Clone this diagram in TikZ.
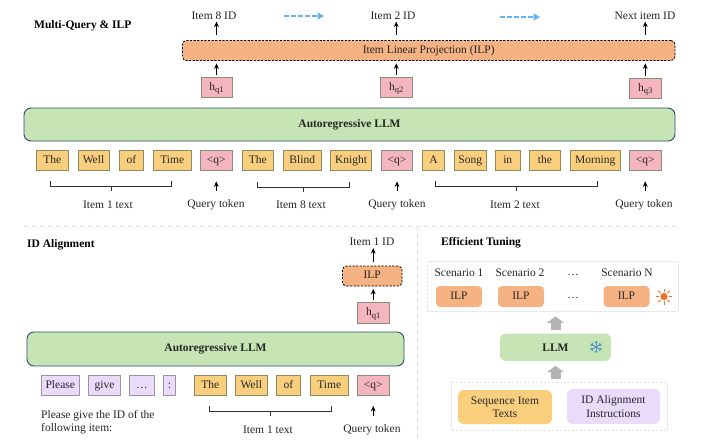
\documentclass[tikz,border=0pt]{standalone}
\usepackage{fontspec}
\setmainfont{Liberation Serif}
\usetikzlibrary{arrows.meta}
\definecolor{tokfill}{HTML}{F9CF7E}
\definecolor{tokline}{HTML}{8C8A5E}
\definecolor{pinkfill}{HTML}{F4B5C0}
\definecolor{pinkline}{HTML}{8C8F78}
\definecolor{purpfill}{HTML}{EADBFB}
\definecolor{purpline}{HTML}{9A93A8}
\definecolor{llmfill}{HTML}{C6E4B4}
\definecolor{llmline}{HTML}{2F4A75}
\definecolor{ilpfill}{HTML}{F5B282}
\definecolor{flowblue}{HTML}{62B2EE}
\definecolor{divline}{HTML}{E2E2E2}
\definecolor{blockgray}{HTML}{B4B4B4}
\definecolor{sunor}{HTML}{F0702A}
\tikzset{
  x=1pt,y=-1pt,
  every node/.style={font=\fontsize{11.5}{13.5}\selectfont,inner sep=0pt,text=black!85},
  boxbase/.style={rectangle,align=center,text height=8pt,text depth=2.5pt},
  tok/.style={boxbase,draw=tokline,fill=tokfill,line width=.8pt},
  qtok/.style={boxbase,draw=pinkline,fill=pinkfill,line width=.8pt},
  ptok/.style={boxbase,draw=purpline,fill=purpfill,line width=.8pt},
  llmbar/.style={boxbase,draw=llmline,fill=llmfill,line width=.9pt,rounded corners=7pt,font=\fontsize{11.5}{13.5}\selectfont\bfseries},
  ilpdash/.style={boxbase,draw=black,fill=ilpfill,line width=.8pt,dash pattern=on 2.2pt off 1.4pt,rounded corners=4pt},
  ilpsoft/.style={boxbase,fill=ilpfill,rounded corners=4pt},
  softbox/.style={rectangle,align=center,rounded corners=6pt},
  heading/.style={anchor=west,font=\fontsize{11.5}{13.5}\selectfont\bfseries,text=black},
  upar/.style={-{Stealth[length=5.5pt,width=4.8pt]},line width=.9pt,black,shorten >=2.5pt,shorten <=2.5pt},
  outar/.style={upar,shorten <=5.5pt,shorten >=1.5pt},
  qar/.style={upar,shorten <=9pt,shorten >=10.5pt},
  flowar/.style={-{Triangle[length=6.5pt,width=7pt]},line width=1.3pt,flowblue,dash pattern=on 4.5pt off 2.5pt},
  blockar/.style={-{Triangle[length=6.5pt,width=17pt]},line width=10pt,blockgray,shorten <=3pt,shorten >=4.5pt},
  divider/.style={divline,line width=.9pt,dash pattern=on 5pt off 3pt},
  groupbox/.style={rectangle,draw=divline,line width=.8pt,dash pattern=on 2.5pt off 1.5pt},
  bracket/.style={line width=1pt,black!80},
}
\newcommand{\bx}[7]{\node[#1,minimum width={(#4-#3)*1pt},minimum height={(#6-#5)*1pt}] (#2) at ({(#3+#4)/2},{(#5+#6)/2}) {#7};}
\newcommand{\hq}[1]{h\raisebox{-2.5pt}{\fontsize{8.5}{9}\selectfont q#1}}
\newcommand{\brk}[5]{%
  \coordinate (#1a) at (#2,#4); \coordinate (#1b) at (#3,#4);
  \coordinate (#1c) at (#5,{#4+5}); \coordinate (#1d) at (#5,{#4+10});
  \draw[bracket] (#1a) -- (#1a |- #1c) -- (#1b |- #1c) -- (#1b);
  \draw[bracket] (#1c) -- (#1d);}
\begin{document}
\begin{tikzpicture}
\useasboundingbox (0,0) rectangle (726,440);
\fill[white] (0,0) rectangle (726,440);
% ---------- Multi-Query & ILP
\node[heading] (t1) at (34,26) {Multi-Query \& ILP};
\node (id8) at (214,16) {Item 8 ID};
\node (id2) at (393,16) {Item 2 ID};
\node (idn) at (645,16) {Next item ID};
\bx{ilpdash}{ilp}{182.5}{675}{40.5}{60.5}{Item Linear Projection (ILP)}
\bx{qtok}{h1}{201}{232}{77.5}{97.5}{\hq{1}}
\bx{qtok}{h2}{380.5}{412}{77.5}{97.5}{\hq{2}}
\bx{qtok}{h3}{629.5}{661}{78.5}{98.5}{\hq{3}}
\bx{llmbar}{llm}{24}{675}{108}{141}{Autoregressive LLM}
\bx{tok}{a1}{36.5}{68}{150.5}{170.5}{The}
\bx{tok}{a2}{78}{109}{150.5}{170.5}{Well}
\bx{tok}{a3}{119.5}{143.5}{150.5}{170.5}{of}
\bx{tok}{a4}{153.5}{191}{150.5}{170.5}{Time}
\bx{qtok}{q1}{200.5}{232}{150.5}{170.5}{<q>}
\bx{tok}{a5}{242}{273.5}{150.5}{170.5}{The}
\bx{tok}{a6}{283.5}{321}{150.5}{170.5}{Blind}
\bx{tok}{a7}{330.5}{371.5}{150.5}{170.5}{Knight}
\bx{qtok}{q2}{381.5}{412.5}{150.5}{170.5}{<q>}
\bx{tok}{a8}{422.5}{444.5}{150.5}{170.5}{A}
\bx{tok}{a9}{454.5}{486}{150.5}{170.5}{Song}
\bx{tok}{a10}{495.5}{520}{150.5}{170.5}{in}
\bx{tok}{a11}{529.5}{560.5}{150.5}{170.5}{the}
\bx{tok}{a12}{570.5}{620}{150.5}{170.5}{Morning}
\bx{qtok}{q3}{629.5}{661}{150.5}{170.5}{<q>}
\node (l1) at (108,205) {Item 1 text};
\node (l2) at (216,205) {Query token};
\node (l3) at (301,205) {Item 8 text};
\node (l4) at (397,205) {Query token};
\node (l5) at (515,205) {Item 2 text};
\node (l6) at (644,205) {Query token};
\draw[upar] (h1.north) -- (h1.north |- ilp.south);
\draw[upar] (h2.north) -- (h2.north |- ilp.south);
\draw[upar] (h3.north) -- (h3.north |- ilp.south);
\draw[outar] (h1.north |- ilp.north) -- (h1.north |- id8.south);
\draw[outar] (h2.north |- ilp.north) -- (h2.north |- id2.south);
\draw[outar] (h3.north |- ilp.north) -- (h3.north |- idn.south);
\coordinate (fa1) at (284,16); \coordinate (fa2) at (324,16);
\coordinate (fb1) at (500,17); \coordinate (fb2) at (540,17);
\draw[flowar] (fa1) -- (fa2);
\draw[flowar] (fb1) -- (fb2);
\brk{ba}{50}{171}{181}{111}
\brk{bb}{257}{349}{182}{303}
\brk{bc}{435}{597}{181}{516}
\draw[qar] (q1.south |- l2.north) -- (q1.south);
\draw[qar] (q2.south |- l4.north) -- (q2.south);
\draw[qar] (q3.south |- l6.north) -- (q3.south);
% ---------- dividers
\coordinate (dva) at (24,226); \coordinate (dvb) at (680,226);
\coordinate (dvc) at (417,226); \coordinate (dvd) at (417,440);
\draw[divider] (dva) -- (dvb);
\draw[divider] (dvc) -- (dvd);
% ---------- ID Alignment
\node[heading] (t2) at (27,245) {ID Alignment};
\node (id1) at (372,242) {Item 1 ID};
\bx{ilpdash}{ilpb}{342.5}{402}{266}{286}{ILP}
\bx{qtok}{h4}{357.5}{389}{302.5}{323}{\hq{1}}
\bx{llmbar}{llmb}{27}{404}{332}{366}{Autoregressive LLM}
\bx{ptok}{p1}{41}{79.5}{375.5}{395}{Please}
\bx{ptok}{p2}{88.5}{120.5}{375.5}{395}{give}
\bx{ptok}{p3}{129.5}{154}{375.5}{395}{…}
\bx{ptok}{p4}{163.5}{175.5}{375.5}{395}{:}
\bx{tok}{b1}{194.5}{226}{375.5}{395}{The}
\bx{tok}{b2}{235.5}{267}{375.5}{395}{Well}
\bx{tok}{b3}{276.5}{300.5}{375.5}{395}{of}
\bx{tok}{b4}{310.5}{348}{375.5}{395}{Time}
\bx{qtok}{q4}{357.5}{389}{375.5}{395}{<q>}
\node[anchor=west,align=left] (pl) at (41,422) {Please give the ID of the\\following item:};
\node (l7) at (268,430) {Item 1 text};
\node (l8) at (372,430) {Query token};
\draw[upar] (h4.north) -- (h4.north |- ilpb.south);
\draw[upar,shorten <=4pt,shorten >=2pt] (h4.north |- ilpb.north) -- (h4.north |- id1.south);
\brk{bd}{209}{331}{406}{270}
\draw[qar] (q4.south |- l8.north) -- (q4.south);
% ---------- Efficient Tuning
\node[heading] (t3) at (441,243) {Efficient Tuning};
\bx{groupbox}{scen}{427}{678}{261}{311.5}{}
\node (s1) at (459,273) {Scenario 1};
\node (s2) at (520,273) {Scenario 2};
\node (s3) at (573,275) {…};
\node (s4) at (627,273) {Scenario N};
\bx{ilpsoft}{i1}{436}{482}{286}{307}{ILP}
\bx{ilpsoft}{i2}{498}{544}{286}{307}{ILP}
\node (s5) at (573,298) {…};
\bx{ilpsoft}{i3}{603.5}{649.5}{286}{307}{ILP}
\coordinate (sun) at (664,296.5);
\fill[sunor] (sun) circle (3.6);
\foreach \a in {0,45,...,315}{\draw[sunor,line width=.9pt] (sun) ++(\a:4.8) -- ++(\a:3.2);}
\bx{softbox,fill=llmfill,font=\fontsize{11.5}{13.5}\selectfont\bfseries}{llmc}{500}{611}{333.5}{361}{LLM}
\coordinate (snow) at (596,347);
\foreach \a in {30,90,...,330}{
  \draw[flowblue!85!black,line width=1pt] (snow) -- ++(\a:6.3);
  \draw[flowblue!85!black,line width=.7pt] (snow) ++(\a:3.8) -- ++(\a+50:2.2);
  \draw[flowblue!85!black,line width=.7pt] (snow) ++(\a:3.8) -- ++(\a-50:2.2);
}
\draw[blockar] (llmc.north) -- (llmc.north |- scen.south);
\bx{groupbox}{grp}{451.5}{667}{382.5}{430}{}
\bx{softbox,fill=tokfill}{seq}{458}{552}{390}{424}{Sequence Item\\Texts}
\bx{softbox,fill=purpfill}{ins}{567}{660}{389}{424}{ID Alignment\\Instructions}
\draw[blockar] (llmc.north |- grp.north) -- (llmc.south);
\end{tikzpicture}
\end{document}
